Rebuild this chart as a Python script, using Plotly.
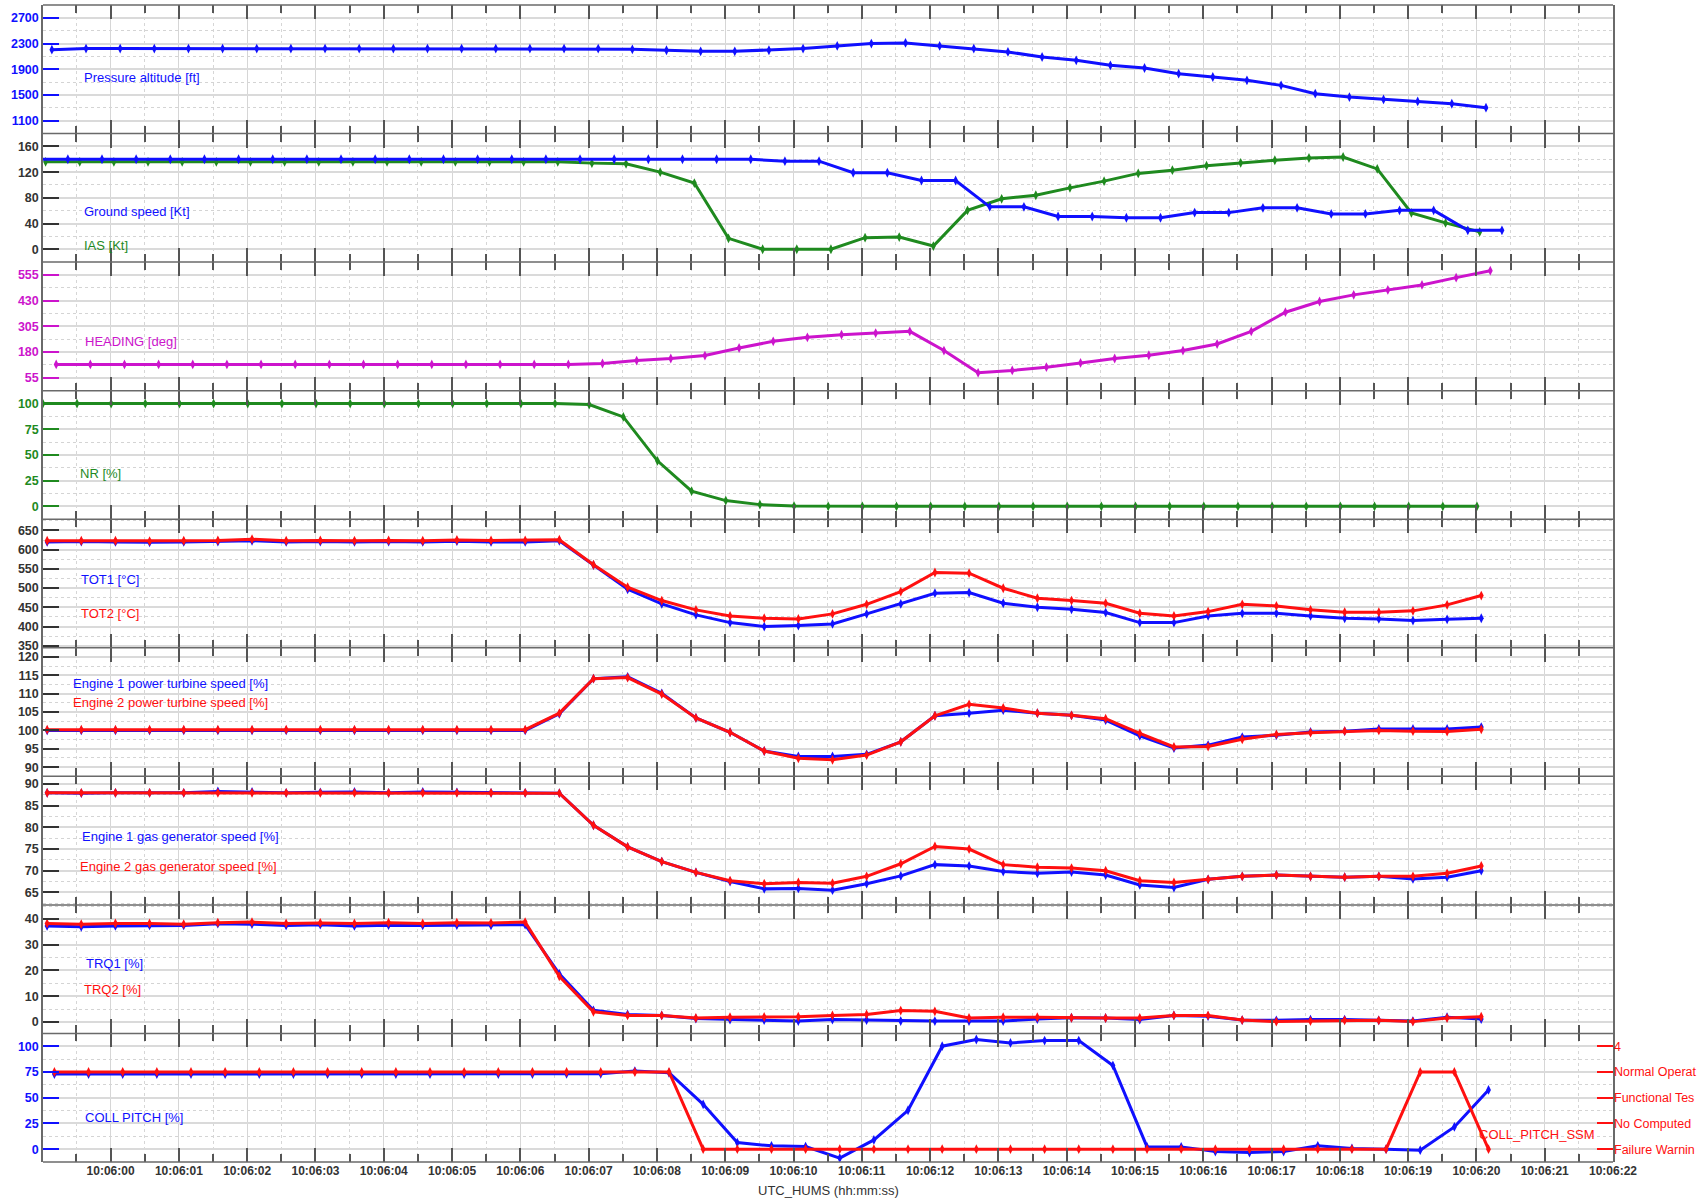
import numpy as np
import pandas as pd
import plotly.graph_objects as go

# ---------------- data (sampled every 0.5 s) ----------------
BASE = pd.Timestamp("2000-01-01 10:06:00")
PERIOD = 0.5  # s

# start offsets (s, relative to 10:06:00) of each recorded series
t0_alt, t0_gs, t0_ias, t0_hdg, t0_nr, t0_eng, t0_trq, t0_coll = -0.86, -1.126, -0.952, -0.797, -0.992, -0.929, -0.93, -0.823

pressure_alt = [2205, 2222, 2222, 2222, 2222, 2222, 2222, 2222, 2222, 2222, 2222, 2222, 2222, 2222, 2222,
                2222, 2222, 2211, 2196, 2180, 2180, 2196, 2222, 2263, 2300, 2310, 2263, 2222, 2170, 2091,
                2040, 1962, 1920, 1832, 1780, 1728, 1650, 1520, 1467, 1431, 1400, 1364, 1302]

ground_speed = [140] * 22 + [137, 137, 119, 119, 107, 107, 66, 66, 51, 51, 49, 49, 57, 57,
                             64.5, 64.5, 55, 55, 60.5, 60.5, 29.5, 29.5]

ias = [136] * 16 + [134, 133, 120, 103, 17, 0, 0, 0, 18, 19, 5, 60.5, 78.5, 84, 95.5, 106, 118,
                    123, 130, 134.5, 138.5, 142, 143.5, 125, 56.5, 41, 27]

heading = [120] * 16 + [124.6, 139, 148.8, 163.3, 200, 232.5, 251.8, 264.9, 272.6, 280.8, 187.5,
                        79.2, 90.8, 106.7, 127.5, 148.8, 164.8, 187.5, 219.4, 280.8, 374, 425.9,
                        458.3, 482.4, 506.6, 542, 575.8]

nr = [100] * 15 + [100, 99, 87, 44.3, 14.8, 5.6, 1.7, 0.3] + [0] * 20

tot1 = [620, 621, 620, 619, 620, 621, 623, 620, 621, 620, 621, 620, 622, 620, 620,
        623, 560, 497, 459, 430.5, 410.4, 400, 402.6, 407, 433, 459, 486.8, 488.5, 460.7, 450.3,
        445, 436.5, 410.4, 410.4, 427.8, 434.6, 434.6, 427.8, 421.7, 420, 415.6, 419, 421.7]
tot2 = [623, 623, 623, 622, 623, 624, 627, 623, 624, 623, 624, 623, 625, 624, 624,
        625.8, 560.7, 502.3, 467.7, 443.5, 427.8, 421.7, 420, 433, 458, 491, 540.6, 538.8, 499.7,
        473.7, 467.7, 460.7, 434.6, 427.8, 439, 458, 453.8, 443.5, 437.3, 437.3, 440.9, 456.5, 480.7]

pt1 = [100.0] * 15 + [104.5, 114.1, 114.6, 110.1, 103.4, 99.5, 94.4, 92.9, 92.9, 93.5, 96.9, 104,
                      104.7, 105.5, 104.7, 104.1, 102.8, 98.5, 95.2, 96, 98.2, 98.7, 99.6, 99.8,
                      100.4, 100.4, 100.4, 100.9]
pt2 = [100.2] * 15 + [104.7, 114.1, 114.4, 109.9, 103.4, 99.5, 94.4, 92.4, 92.0, 93.3, 96.9, 104,
                      107.1, 106.1, 104.7, 104.1, 103.2, 99.2, 95.5, 95.6, 97.6, 98.9, 99.4, 99.8,
                      100, 99.8, 99.7, 100.3]

ng1 = [88.0, 87.9, 88.0, 88.0, 88.0, 88.3, 88.2, 88.0, 88.1, 88.2, 88.0, 88.2, 88.1, 88.0, 88.0,
       87.9, 80.5, 75.5, 72.1, 69.6, 67.5, 65.8, 65.9, 65.5, 67, 68.8, 71.4, 71.1, 69.8, 69.4,
       69.7, 69, 66.7, 66.1, 68, 68.7, 69, 68.7, 68.5, 68.7, 68.1, 68.5, 70]
ng2 = [88.0] * 15 + [87.9, 80.5, 75.5, 72.1, 69.6, 67.7, 67, 67.3, 67.1, 68.7, 71.6, 75.6, 75,
                     71.4, 70.8, 70.6, 70, 67.7, 67.3, 68, 68.7, 69, 68.7, 68.5, 68.7, 68.7, 69.4, 71.1]

trq1 = [37.3, 37.0, 37.3, 37.5, 37.5, 38.2, 38.0, 37.5, 37.8, 37.3, 37.6, 37.5, 37.6, 37.5, 37.8,
        18.7, 4.5, 2.9, 2.5, 1.3, 0.9, 0.7, 0.3, 0.9, 0.7, 0.3, 0.3, 0.3, 0.3, 1.1, 1.6, 1.5, 0.9,
        2.5, 2.2, 0.7, 0.6, 0.9, 0.9, 0.6, 0.3, 1.8, 1.1]
trq2 = [38.3, 38.0, 38.3, 38.3, 38.0, 38.6, 38.8, 38.3, 38.5, 38.3, 38.6, 38.3, 38.6, 38.5, 38.8,
        17.7, 3.9, 2.5, 2.5, 1.5, 1.8, 1.9, 2, 2.5, 2.9, 4.4, 4.1, 1.5, 1.8, 1.8, 1.6, 1.5, 1.5,
        2.5, 2.5, 0.7, 0.1, 0.3, 0.6, 0.6, 0.1, 1.5, 2]

coll_pitch = [73] * 15 + [73.3, 73.3, 75.9, 74.3, 43.6, 6.4, 3.2, 2.5, -8.7, 9, 37.8, 100.1, 106.6,
                          103.3, 105.6, 105.6, 81.4, 2.2, 2.2, -2.3, -3.3, -2.3, 3.2, 0.6, 0, -1,
                          21.6, 57.6]
coll_ssm = [3] * 19 + [0] * 21 + [3, 3, 0]
# status labels as visible at the right edge of the reference picture
ssm_labels = ["Failure Warnin", "No Computed", "Functional Tes", "Normal Operat", "4"]

x_range = ["2000-01-01 10:05:59.01", "2000-01-01 10:06:22"]


def times(t0, n):
    return BASE + pd.to_timedelta(t0 + PERIOD * np.arange(n), unit="s")


# ---------------- style ----------------
BLUE = "#1010ff"
GREEN = "#1f8a1f"
RED = "#ff1010"
MAG = "#cc14cc"
DARK = "#333333"
BORDER = "#6a6a6a"
FONT = "Liberation Sans, Arial, sans-serif"

N = 9
fig = go.Figure()


def add(row, x, y, color, yaxis=None):
    ya = yaxis or ("y" if row == 1 else f"y{row}")
    xa = "x" if row == 1 else f"x{row}"
    fig.add_trace(go.Scatter(
        x=x, y=y, mode="lines+markers", xaxis=xa, yaxis=ya,
        line=dict(color=color, width=3),
        marker=dict(symbol="diamond-tall", size=7, color=color),
        showlegend=False, hoverinfo="x+y"))


add(1, times(t0_alt, len(pressure_alt)), pressure_alt, BLUE)
add(2, times(t0_ias, len(ias)), ias, GREEN)
add(2, times(t0_gs, len(ground_speed)), ground_speed, BLUE)
add(3, times(t0_hdg, len(heading)), heading, MAG)
add(4, times(t0_nr, len(nr)), nr, GREEN)
add(5, times(t0_eng, len(tot1)), tot1, BLUE)
add(5, times(t0_eng, len(tot2)), tot2, RED)
add(6, times(t0_eng, len(pt1)), pt1, BLUE)
add(6, times(t0_eng, len(pt2)), pt2, RED)
add(7, times(t0_eng, len(ng1)), ng1, BLUE)
add(7, times(t0_eng, len(ng2)), ng2, RED)
add(8, times(t0_trq, len(trq1)), trq1, BLUE)
add(8, times(t0_trq, len(trq2)), trq2, RED)
add(9, times(t0_coll, len(coll_pitch)), coll_pitch, BLUE)
add(9, times(t0_coll, len(coll_ssm)), coll_ssm, RED, yaxis="y10")

# y axis specs: (range, tick0, dtick, label colour)
yspecs = [
    ([900, 2900], 1100, 400, BLUE),
    ([-20, 180], 0, 40, DARK),
    ([-7.5, 617.5], 55, 125, MAG),
    ([-12.5, 112.5], 0, 25, GREEN),
    ([345, 679], 350, 50, DARK),
    ([87.5, 122.5], 90, 5, DARK),
    ([62.1, 91.8], 65, 5, DARK),
    ([-4.5, 45.5], 0, 10, DARK),
    ([-12.5, 112.5], 0, 25, BLUE),
]

layout = dict(
    width=1703, height=1203,
    margin=dict(l=43, r=90, t=5, b=41),
    paper_bgcolor="white", plot_bgcolor="white",
    font=dict(family=FONT, size=12, color=DARK),
)

for i in range(N):
    top = 1 - i / N
    bot = 1 - (i + 1) / N
    rng, tk0, dtk, col = yspecs[i]
    yname = "yaxis" if i == 0 else f"yaxis{i+1}"
    xname = "xaxis" if i == 0 else f"xaxis{i+1}"
    layout[yname] = dict(
        domain=[bot, top], range=rng, tick0=tk0, dtick=dtk,
        ticks="inside", ticklen=16, tickwidth=1.5, tickcolor=col,
        tickfont=dict(family=FONT, size=12.5, color=col, weight="bold"),
        showgrid=True, gridcolor="#dadada", gridwidth=2,
        minor=dict(tick0=tk0, dtick=dtk / 2, showgrid=True, gridcolor="#d4d4d4",
                   griddash="dot", gridwidth=1, ticks=""),
        showline=True, linecolor=BORDER, linewidth=1.5, mirror=True,
        zeroline=False, automargin=False,
        anchor="x" if i == 0 else f"x{i+1}",
    )
    xa = dict(
        type="date", range=x_range,
        tick0="2000-01-01 10:06:00", dtick=1000, tickformat="%H:%M:%S",
        ticks="inside", ticklen=14, tickwidth=1.5, tickcolor="#555555",
        showgrid=True, gridcolor="#d6d6d6", gridwidth=1,
        minor=dict(tick0="2000-01-01 10:06:00", dtick=500, ticks="inside", ticklen=8,
                   tickwidth=1.5, tickcolor="#555555", showgrid=True,
                   gridcolor="#d6d6d6", griddash="dot", gridwidth=1),
        showline=False, mirror="ticks",
        zeroline=False, automargin=False,
        anchor="y" if i == 0 else f"y{i+1}",
        showticklabels=(i == N - 1),
        tickfont=dict(family=FONT, size=12, color=DARK, weight="bold"),
    )
    if i > 0:
        xa["matches"] = "x"
    layout[xname] = xa

layout["yaxis10"] = dict(
    overlaying="y9", side="right", anchor="x9", range=[-0.5, 4.5],
    tickmode="array", tickvals=list(range(len(ssm_labels))), ticktext=ssm_labels,
    ticks="inside", ticklen=16, tickwidth=1.5, tickcolor=RED,
    tickfont=dict(family=FONT, size=12.5, color=RED),
    showgrid=False, zeroline=False, showline=False, automargin=False,
)

# one horizontal border line per panel boundary
layout["shapes"] = [
    dict(type="line", xref="paper", yref="paper", x0=0, x1=1, y0=1 - j / N, y1=1 - j / N,
         line=dict(color=BORDER, width=1.5), layer="above")
    for j in range(N + 1)
]

fig.update_layout(**layout)

# labels inside panels (pixel positions converted to paper coords)
PL, PR, PT, PB = 43.3, 1613.3, 4.7, 1162.0


def px(xp):
    return (xp - PL) / (PR - PL)


def py(yp):
    return (PB - yp) / (PB - PT)


labels = [
    ("Pressure altitude [ft]", 82, 77, BLUE),
    ("Ground speed [Kt]", 82, 211.7, BLUE),
    ("IAS [Kt]", 82, 245, GREEN),
    ("HEADING [deg]", 83, 341.7, MAG),
    ("NR [%]", 78, 473.3, GREEN),
    ("TOT1 [°C]", 79, 579.3, BLUE),
    ("TOT2 [°C]", 79, 613.3, RED),
    ("Engine 1 power turbine speed [%]", 71, 683.3, BLUE),
    ("Engine 2 power turbine speed [%]", 71, 702.7, RED),
    ("Engine 1 gas generator speed [%]", 80, 836, BLUE),
    ("Engine 2 gas generator speed [%]", 78, 866.7, RED),
    ("TRQ1 [%]", 84, 963.3, BLUE),
    ("TRQ2 [%]", 82, 989, RED),
    ("COLL PITCH [%]", 83.5, 1117.5, BLUE),
]
for text, xp, yp, col in labels:
    fig.add_annotation(text=text, xref="paper", yref="paper", x=px(xp), y=py(yp),
                       xanchor="left", yanchor="middle", showarrow=False,
                       font=dict(family=FONT, size=13, color=col))

fig.add_annotation(text="COLL_PITCH_SSM", xref="paper", yref="paper", x=px(1597), y=py(1134),
                   xanchor="right", yanchor="middle", showarrow=False,
                   font=dict(family=FONT, size=13, color=RED))
fig.add_annotation(text="UTC_HUMS (hh:mm:ss)", xref="paper", yref="paper", x=0.5, y=py(1191),
                   xanchor="center", yanchor="middle", showarrow=False,
                   font=dict(family=FONT, size=13, color=DARK))

fig.write_html("out.html", config={"displayModeBar": False},
               post_script="document.body.style.margin='0px';")
